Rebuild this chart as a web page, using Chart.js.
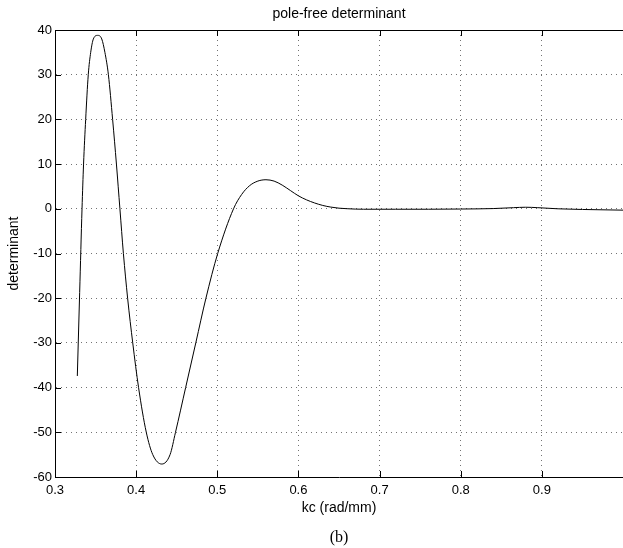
<!DOCTYPE html>
<html>
<head>
<meta charset="utf-8">
<script src="https://cdn.jsdelivr.net/npm/chart.js@4.4.1/dist/chart.umd.min.js"></script>
<style>
  html, body { margin: 0; padding: 0; background: #ffffff; }
  #wrap { width: 623px; height: 548px; }
</style>
</head>
<body>
<div id="wrap"><canvas id="c" width="623" height="548"></canvas></div>
<script>
// ---- data ----
const titleText = "pole-free determinant";
const xAxisLabel = "kc (rad/mm)";
const yAxisLabel = "determinant";
const captionText = "(b)";

const xTickMin = 0.3, xTickMax = 1.0, xTickStep = 0.1;
const yTickMin = -60, yTickMax = 40, yTickStep = 10;

const kcValues = [0.3275,0.3304,0.3333,0.3352,0.3378,0.3410,0.3440,0.3473,0.3526,
  0.3576,0.3615,0.3658,0.3710,0.3757,0.3800,0.3843,0.3895,0.3958,0.4030,
  0.4125,0.4205,0.4316,0.4418,0.4485,0.4610,0.4735,0.4860,0.5005,0.5200,
  0.5300,0.5400,0.5500,0.5600,0.5700,0.5800,0.5900,0.6000,0.6100,0.6200,
  0.6300,0.6400,0.6500,0.6600,0.6800,0.7200,0.7600,0.8000,0.8400,0.8650,
  0.8800,0.8950,0.9200,0.9500,1.0000];
const detValues = [-37.4,-18.7,0,10,20,30,35,38,38.8,
  38,35,30,20,10,0,-10,-20,-30,-40,
  -50,-55,-57.1,-55,-50,-40,-30,-20,-10,0,
  3.2,5.2,6.2,6.5,6.2,5.3,4.1,2.9,2.0,1.3,
  0.75,0.38,0.14,0.02,-0.1,-0.1,-0.1,-0.05,0.05,0.25,
  0.35,0.25,0,-0.15,-0.3];

const points = kcValues.map((x, i) => ({x: x, y: detValues[i]}));

// box top line and inward (MATLAB-style) tick marks, placed through the scales
const boxAndTicks = {
  id: 'boxAndTicks',
  afterDraw(chart) {
    const ctx = chart.ctx, a = chart.chartArea;
    const xs = chart.scales.x, ys = chart.scales.y;
    const L = 6;
    ctx.save();
    ctx.strokeStyle = '#000';
    ctx.lineWidth = 1;
    ctx.setLineDash([]);
    ctx.beginPath();
    ctx.moveTo(a.left, a.top + 0.5);
    ctx.lineTo(a.right, a.top + 0.5);
    xs.ticks.forEach(t => {
      const px = Math.round(xs.getPixelForValue(t.value)) + 0.5;
      ctx.moveTo(px, a.bottom);
      ctx.lineTo(px, a.bottom - L);
      ctx.moveTo(px, a.top);
      ctx.lineTo(px, a.top + L);
    });
    ys.ticks.forEach(t => {
      const py = Math.round(ys.getPixelForValue(t.value)) + 0.5;
      ctx.moveTo(a.left, py);
      ctx.lineTo(a.left + L, py);
    });
    ctx.stroke();
    ctx.restore();
  }
};

const sans = "'Liberation Sans', Arial, Helvetica, sans-serif";

new Chart(document.getElementById('c'), {
  type: 'line',
  data: {
    datasets: [{
      data: points,
      borderColor: '#000000',
      borderWidth: 1,
      pointRadius: 0,
      fill: false,
      cubicInterpolationMode: 'monotone'
    }]
  },
  options: {
    responsive: false,
    animation: false,
    events: [],
    layout: { padding: { left: 0, right: 0, top: 0, bottom: 0 } },
    plugins: {
      legend: { display: false },
      tooltip: { enabled: false },
      title: {
        display: true,
        text: titleText,
        fullSize: false,
        color: '#000',
        font: { family: sans, size: 14, weight: 'normal' },
        padding: { top: 5.6, bottom: 7.6 }
      },
      subtitle: {
        display: true,
        text: captionText,
        position: 'bottom',
        fullSize: false,
        color: '#000',
        font: { family: "'Liberation Serif', 'Times New Roman', serif", size: 16, weight: 'normal' },
        padding: { top: 12, bottom: 0.4 }
      }
    },
    scales: {
      x: {
        type: 'linear',
        min: xTickMin,
        max: xTickMax,
        afterBuildTicks(scale) {
          const t = [];
          for (let v = xTickMin; v <= xTickMax + 1e-9; v += xTickStep) t.push({value: Math.round(v * 10) / 10});
          scale.ticks = t;
        },
        afterFit(scale) {
          scale.height = 39.4;
          scale.paddingRight = 0;
          scale.paddingLeft = 0;
        },
        ticks: {
          color: '#000',
          font: { family: sans, size: 13 },
          padding: 5.7,
          maxRotation: 0,
          autoSkip: false,
          callback: (v) => (v > 0.99 ? '' : Number(v).toFixed(1))
        },
        grid: {
          display: true,
          drawTicks: false,
          color: 'rgba(0,0,0,0.55)',
          lineWidth: 1
        },
        border: { display: true, color: '#000', width: 1, dash: [1, 4] },
        title: {
          display: true,
          text: xAxisLabel,
          color: '#000',
          font: { family: sans, size: 14 },
          padding: { top: 2, bottom: 0 }
        }
      },
      y: {
        type: 'linear',
        min: yTickMin,
        max: yTickMax,
        afterFit(scale) {
          scale.width = 55;
        },
        ticks: {
          stepSize: yTickStep,
          color: '#000',
          font: { family: sans, size: 13 },
          padding: 3,
          callback: (v) => String(v)
        },
        grid: {
          display: true,
          drawTicks: false,
          color: 'rgba(0,0,0,0.55)',
          lineWidth: 1
        },
        border: { display: true, color: '#000', width: 1, dash: [1, 4] },
        title: {
          display: true,
          text: yAxisLabel,
          color: '#000',
          font: { family: sans, size: 14 },
          padding: { top: 6.1, bottom: 0 }
        }
      }
    }
  },
  plugins: [boxAndTicks]
});
</script>
</body>
</html>
